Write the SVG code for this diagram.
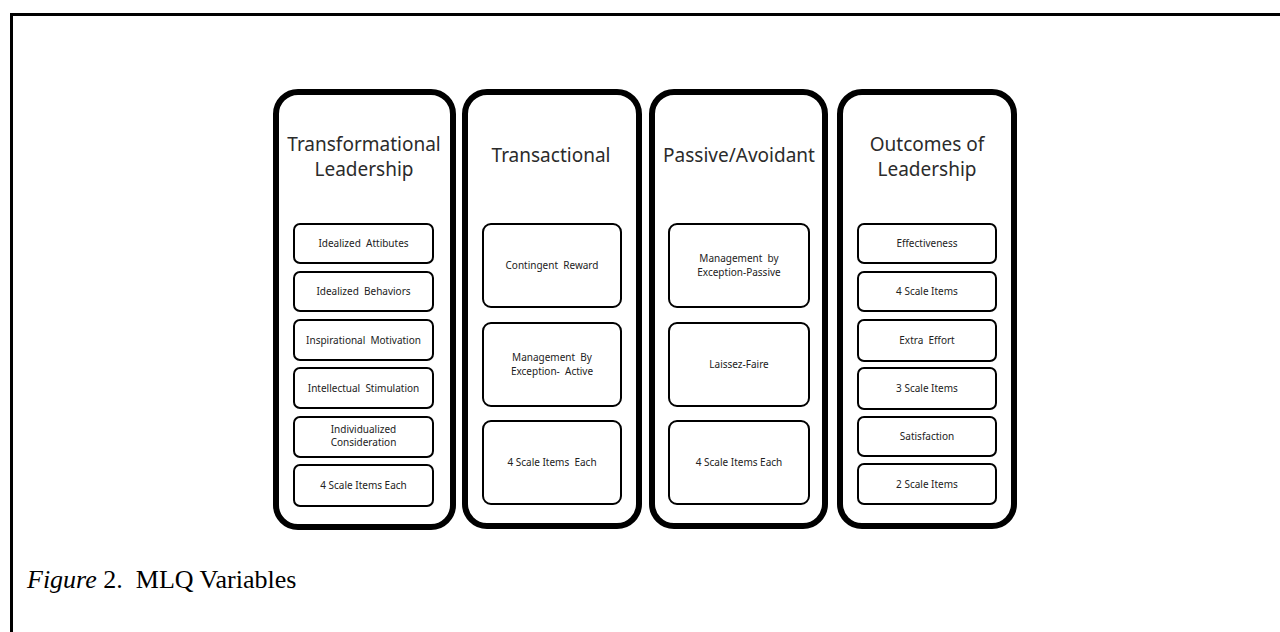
<svg xmlns="http://www.w3.org/2000/svg" width="1280" height="632" viewBox="0 0 1280 632">
<style>
.col{fill:#fff;stroke:#000;stroke-width:6}
.box{fill:#fff;stroke:#000;stroke-width:2}
.ttl{font-family:"Noto Sans","Open Sans",sans-serif;font-size:19px;fill:#2b2b2b;text-anchor:middle}
.lbl{font-family:"Noto Sans","Open Sans",sans-serif;font-size:10px;fill:#222;text-anchor:middle;white-space:pre}
.cap{font-family:"Liberation Serif","Times New Roman",serif;font-size:26px;fill:#000}
</style>
<rect width="1280" height="632" fill="#fff"/>
<path d="M11.5,632 V14.5 H1280" fill="none" stroke="#000" stroke-width="3"/>

<g id="col-transformational">
<rect class="col" x="276" y="92" width="177" height="435" rx="22" stroke-width="7"/>
<text class="ttl" x="364" y="151">Transformational</text>
<text class="ttl" x="364" y="176">Leadership</text>
</g>
<g id="tf-1"><rect class="box" x="294" y="224" width="139" height="39" rx="6"/><text class="lbl" x="363.5" y="247">Idealized  Attibutes</text></g>
<g id="tf-2"><rect class="box" x="294" y="272" width="139" height="39" rx="6"/><text class="lbl" x="363.5" y="295">Idealized  Behaviors</text></g>
<g id="tf-3"><rect class="box" x="294" y="320" width="139" height="40" rx="6"/><text class="lbl" x="363.5" y="343.5">Inspirational  Motivation</text></g>
<g id="tf-4"><rect class="box" x="294" y="368" width="139" height="40" rx="6"/><text class="lbl" x="363.5" y="391.5">Intellectual  Stimulation</text></g>
<g id="tf-5"><rect class="box" x="294" y="417" width="139" height="40" rx="6"/><text class="lbl" x="363.5" y="433">Individualized</text><text class="lbl" x="363.5" y="446">Consideration</text></g>
<g id="tf-6"><rect class="box" x="294" y="465" width="139" height="41" rx="6"/><text class="lbl" x="363.5" y="489">4 Scale Items Each</text></g>

<g id="col-transactional">
<rect class="col" x="465" y="92" width="174" height="434" rx="22"/>
<text class="ttl" x="551" y="162">Transactional</text>
</g>
<g id="ta-1"><rect class="box" x="483" y="224" width="138" height="83" rx="8"/><text class="lbl" x="552" y="269">Contingent  Reward</text></g>
<g id="ta-2"><rect class="box" x="483" y="323" width="138" height="83" rx="8"/><text class="lbl" x="552" y="361">Management  By</text><text class="lbl" x="552" y="375">Exception-  Active</text></g>
<g id="ta-3"><rect class="box" x="483" y="421" width="138" height="83" rx="8"/><text class="lbl" x="552" y="466">4 Scale Items  Each</text></g>

<g id="col-passive">
<rect class="col" x="652" y="92" width="173" height="434" rx="22"/>
<text class="ttl" x="739" y="162">Passive/Avoidant</text>
</g>
<g id="pa-1"><rect class="box" x="669" y="224" width="140" height="83" rx="8"/><text class="lbl" x="739" y="262">Management  by</text><text class="lbl" x="739" y="276">Exception-Passive</text></g>
<g id="pa-2"><rect class="box" x="669" y="323" width="140" height="83" rx="8"/><text class="lbl" x="739" y="368">Laissez-Faire</text></g>
<g id="pa-3"><rect class="box" x="669" y="421" width="140" height="83" rx="8"/><text class="lbl" x="739" y="466">4 Scale Items Each</text></g>

<g id="col-outcomes">
<rect class="col" x="840" y="92" width="174" height="434" rx="22"/>
<text class="ttl" x="927" y="151">Outcomes  of</text>
<text class="ttl" x="927" y="176">Leadership</text>
</g>
<g id="oc-1"><rect class="box" x="858" y="224" width="138" height="39" rx="6"/><text class="lbl" x="927" y="247">Effectiveness</text></g>
<g id="oc-2"><rect class="box" x="858" y="272" width="138" height="39" rx="6"/><text class="lbl" x="927" y="295">4 Scale Items</text></g>
<g id="oc-3"><rect class="box" x="858" y="320" width="138" height="41" rx="6"/><text class="lbl" x="927" y="344">Extra  Effort</text></g>
<g id="oc-4"><rect class="box" x="858" y="368" width="138" height="41" rx="6"/><text class="lbl" x="927" y="392">3 Scale Items</text></g>
<g id="oc-5"><rect class="box" x="858" y="417" width="138" height="39" rx="6"/><text class="lbl" x="927" y="440">Satisfaction</text></g>
<g id="oc-6"><rect class="box" x="858" y="464" width="138" height="40" rx="6"/><text class="lbl" x="927" y="488">2 Scale Items</text></g>

<g id="connectors"></g>

<text class="cap" x="27" y="588"><tspan font-style="italic">Figure</tspan> 2.<tspan xml:space="preserve">  MLQ Variables</tspan></text>
</svg>
